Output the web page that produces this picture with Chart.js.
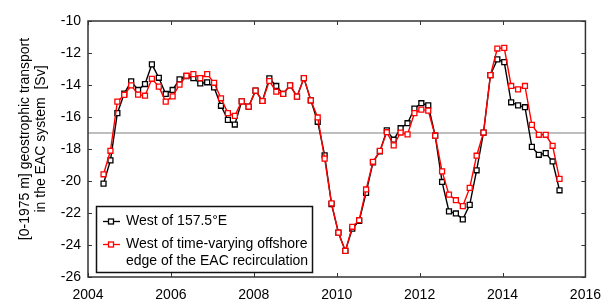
<!DOCTYPE html>
<html>
<head>
<meta charset="utf-8">
<script src="https://cdn.jsdelivr.net/npm/chart.js@4.4.1/dist/chart.umd.min.js"></script>
<style>
  html, body { margin: 0; padding: 0; background: #fff; }
  #wrap { width: 611px; height: 302px; position: relative; }
</style>
</head>
<body>
<div id="wrap"><canvas id="transportChart"></canvas></div>
<script>
// bi-monthly samples, May 2004 - May 2015
const months = [
  '2004-05','2004-07','2004-09','2004-11','2005-01','2005-03','2005-05','2005-07','2005-09','2005-11',
  '2006-01','2006-03','2006-05','2006-07','2006-09','2006-11','2007-01','2007-03','2007-05','2007-07',
  '2007-09','2007-11','2008-01','2008-03','2008-05','2008-07','2008-09','2008-11','2009-01','2009-03',
  '2009-05','2009-07','2009-09','2009-11','2010-01','2010-03','2010-05','2010-07','2010-09','2010-11',
  '2011-01','2011-03','2011-05','2011-07','2011-09','2011-11','2012-01','2012-03','2012-05','2012-07',
  '2012-09','2012-11','2013-01','2013-03','2013-05','2013-07','2013-09','2013-11','2014-01','2014-03',
  '2014-05','2014-07','2014-09','2014-11','2015-01','2015-03','2015-05'
];

// West of 157.5°E
const west1575 = [
  -20.16, -18.71, -15.76, -14.54, -13.77, -14.31, -13.94, -12.71, -13.55, -14.56,
  -14.31, -13.65, -13.44, -13.57, -13.90, -13.83, -14.15, -15.30, -16.18, -16.47,
  -15.02, -15.35, -14.35, -15.00, -13.59, -14.06, -14.56, -14.02, -14.73, -13.57,
  -14.96, -16.30, -18.40, -21.45, -23.23, -24.37, -22.98, -22.50, -20.74, -18.83,
  -18.15, -16.84, -17.42, -16.70, -16.39, -15.47, -15.14, -15.27, -17.17, -20.06,
  -21.90, -22.03, -22.40, -21.49, -19.33, -16.97, -13.38, -12.40, -12.57, -15.08,
  -15.27, -15.39, -17.87, -18.36, -18.26, -18.78, -20.58
];

// West of time-varying offshore edge of the EAC recirculation
const westRecirc = [
  -19.58, -18.11, -15.04, -14.62, -14.02, -14.60, -14.67, -13.61, -14.10, -15.04,
  -14.71, -13.98, -13.42, -13.32, -13.57, -13.32, -13.86, -14.83, -15.76, -15.93,
  -15.02, -15.35, -14.35, -15.00, -13.75, -14.42, -14.56, -14.02, -14.73, -13.57,
  -14.96, -16.03, -18.60, -21.40, -23.23, -24.37, -22.86, -22.45, -20.53, -18.80,
  -18.12, -16.95, -17.77, -16.97, -17.09, -15.76, -15.54, -15.60, -17.17, -19.40,
  -20.85, -21.20, -21.57, -20.43, -18.42, -16.97, -13.38, -11.72, -11.68, -14.06,
  -14.27, -14.06, -16.49, -17.11, -17.11, -17.80, -19.87
];

const meanLevel = -17;
const xTicks = [2004, 2006, 2008, 2010, 2012, 2014, 2016];
const yTicks = [-26, -24, -22, -20, -18, -16, -14, -12, -10];

const yTitle = ['[0-1975 m] geostrophic transport', 'in the EAC system  [Sv]'];
const legendLabels = [
  ['West of 157.5°E'],
  ['West of time-varying offshore', 'edge of the EAC recirculation']
];

const FONT = '"Liberation Sans", Arial, Helvetica, sans-serif';
const FRAME = '#333';

function toYear(m) {
  const [y, mo] = m.split('-').map(Number);
  return y + (mo - 0.5) / 12;
}
const years = months.map(toYear);
const pts = arr => arr.map((v, i) => ({ x: years[i], y: v }));

// frame, inward ticks, y title and legend
const decorations = {
  id: 'decorations',
  afterDatasetsDraw(chart) {
    const { ctx, chartArea: a, scales } = chart;
    const xs = scales.x, ys = scales.y;
    ctx.save();
    ctx.strokeStyle = FRAME;
    ctx.lineWidth = 1.5;
    ctx.strokeRect(a.left, a.top, a.right - a.left, a.bottom - a.top);
    ctx.lineWidth = 1;
    ctx.beginPath();
    xTicks.forEach(t => {
      const px = Math.round(xs.getPixelForValue(t)) + 0.5;
      ctx.moveTo(px, a.bottom); ctx.lineTo(px, a.bottom - 4);
      ctx.moveTo(px, a.top); ctx.lineTo(px, a.top + 4);
    });
    yTicks.forEach(t => {
      const py = Math.round(ys.getPixelForValue(t)) + 0.5;
      ctx.moveTo(a.left, py); ctx.lineTo(a.left + 4, py);
      ctx.moveTo(a.right, py); ctx.lineTo(a.right - 4, py);
    });
    ctx.stroke();

    // y axis title
    ctx.fillStyle = '#000';
    ctx.font = '14px ' + FONT;
    ctx.textAlign = 'center';
    ctx.textBaseline = 'middle';
    ctx.save();
    ctx.translate(25, 139);
    ctx.rotate(-Math.PI / 2);
    ctx.fillText(yTitle[0], 0, 0);
    ctx.fillText(yTitle[1], 0, 16);
    ctx.restore();

    // legend
    const box = { l: 96.5, t: 206.5, r: 312.5, b: 272.5 };
    ctx.fillStyle = '#fff';
    ctx.fillRect(box.l, box.t, box.r - box.l, box.b - box.t);
    ctx.strokeStyle = '#111';
    ctx.lineWidth = 1.5;
    ctx.strokeRect(box.l, box.t, box.r - box.l, box.b - box.t);
    const colors = ['#000', '#ff0000'];
    const rowsY = [221.5, 244.5];
    legendLabels.forEach((lines, k) => {
      const y = rowsY[k];
      ctx.strokeStyle = colors[k];
      ctx.lineWidth = 1.3;
      ctx.beginPath();
      ctx.moveTo(103, y); ctx.lineTo(120, y);
      ctx.stroke();
      ctx.fillStyle = '#fff';
      ctx.fillRect(108.5, y - 2.5, 5, 5);
      ctx.strokeRect(108.5, y - 2.5, 5, 5);
      ctx.fillStyle = '#000';
      ctx.textAlign = 'left';
      lines.forEach((s, j) => ctx.fillText(s, 126, y + j * 16.5));
    });
    ctx.restore();
  }
};

const seriesStyle = color => ({
  borderColor: color,
  backgroundColor: '#fff',
  borderWidth: 1.4,
  pointStyle: 'rect',
  pointRadius: 3.5,
  pointBorderWidth: 1.3,
  pointBorderColor: color,
  pointBackgroundColor: '#fff',
  tension: 0,
  fill: false
});

new Chart(document.getElementById('transportChart'), {
  type: 'line',
  data: {
    datasets: [
      Object.assign({ label: legendLabels[1].join(' '), data: pts(westRecirc), order: 0 }, seriesStyle('#ff0000')),
      Object.assign({ label: legendLabels[0][0], data: pts(west1575), order: 1 }, seriesStyle('#000')),
      {
        label: 'mean',
        data: [{ x: 2004, y: meanLevel }, { x: 2016, y: meanLevel }],
        borderColor: '#a8a8a8',
        borderWidth: 1.3,
        pointRadius: 0,
        order: 2
      }
    ]
  },
  plugins: [decorations],
  options: {
    responsive: true,
    maintainAspectRatio: false,
    animation: false,
    layout: { padding: { top: 21, right: 16, left: 0, bottom: 0 } },
    plugins: {
      legend: { display: false },
      tooltip: { enabled: false }
    },
    scales: {
      x: {
        type: 'linear',
        min: 2004,
        max: 2016,
        afterBuildTicks: s => { s.ticks = xTicks.map(v => ({ value: v })); },
        afterFit: s => { s.height = 25; },
        grid: { display: false, drawTicks: false },
        border: { display: false },
        ticks: {
          padding: 10,
          color: '#000',
          font: { family: FONT, size: 14 },
          callback: v => String(v),
          maxRotation: 0
        }
      },
      y: {
        min: -26,
        max: -10,
        afterBuildTicks: s => { s.ticks = yTicks.map(v => ({ value: v })); },
        afterFit: s => { s.width = 88; },
        grid: { display: false, drawTicks: false },
        border: { display: false },
        ticks: {
          padding: 7,
          color: '#000',
          font: { family: FONT, size: 14 }
        }
      }
    }
  }
});
</script>
</body>
</html>
